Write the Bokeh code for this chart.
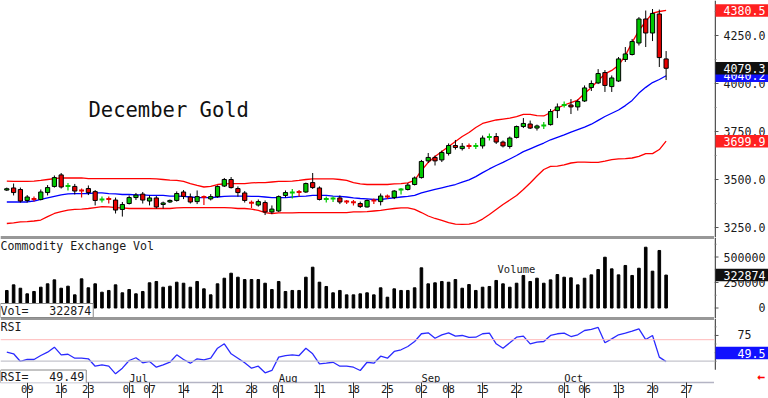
import pandas as pd
from bokeh.plotting import figure
from bokeh.layouts import column, row
from bokeh.models import (ColumnDataSource, FixedTicker, Label, Span, Range1d)
from bokeh.core.properties import value
from bokeh.embed import file_html
from bokeh.resources import INLINE

# ---------------- data ----------------
holidays = ["2025-06-19", "2025-07-04", "2025-09-01"]
session_days = [d for d in pd.bdate_range("2025-06-04", "2025-10-31")
                if d.strftime("%Y-%m-%d") not in holidays]

open_ = [3445, 3456, 3448, 3391, 3400, 3396, 3432, 3464, 3524, 3464,
         3464, 3445, 3453, 3437, 3393, 3401, 3393, 3344, 3375, 3406,
         3424, 3388, 3404, 3370, 3383, 3391, 3435, 3409, 3385, 3411,
         3399, 3411, 3466, 3500, 3453, 3430, 3380, 3367, 3380, 3331,
         3336, 3417, 3430, 3438, 3435, 3484, 3456, 3396, 3398, 3404,
         3388, 3383, 3375, 3357, 3393, 3385, 3414, 3406, 3445, 3448,
         3474, 3510, 3597, 3615, 3602, 3636, 3677, 3661, 3677, 3672,
         3675, 3719, 3724, 3695, 3672, 3719, 3776, 3789, 3768, 3779,
         3786, 3859, 3885, 3888, 3878, 3909, 3979, 4003, 4057, 3984,
         4013, 4125, 4151, 4211, 4336, 4263, 4362, 4128]
high_ = [3458, 3479, 3458, 3419, 3411, 3448, 3471, 3521, 3534, 3482,
         3477, 3453, 3469, 3445, 3411, 3411, 3406, 3383, 3417, 3430,
         3435, 3417, 3414, 3385, 3396, 3438, 3445, 3427, 3443, 3417,
         3424, 3469, 3508, 3513, 3464, 3440, 3391, 3396, 3391, 3365,
         3417, 3443, 3450, 3445, 3484, 3534, 3464, 3411, 3411, 3417,
         3393, 3393, 3385, 3396, 3401, 3427, 3422, 3445, 3456, 3482,
         3516, 3602, 3638, 3625, 3651, 3688, 3706, 3690, 3688, 3690,
         3729, 3740, 3742, 3703, 3724, 3781, 3820, 3807, 3786, 3799,
         3867, 3896, 3906, 3919, 3917, 3990, 4016, 4075, 4070, 4042,
         4138, 4190, 4232, 4346, 4380, 4388, 4385, 4169]
low_ = [3440, 3417, 3380, 3380, 3385, 3391, 3417, 3458, 3453, 3443,
        3422, 3406, 3419, 3365, 3380, 3375, 3323, 3307, 3370, 3393,
        3375, 3365, 3349, 3349, 3378, 3385, 3398, 3375, 3372, 3367,
        3391, 3406, 3461, 3453, 3411, 3380, 3352, 3359, 3315, 3320,
        3331, 3406, 3401, 3411, 3430, 3451, 3391, 3380, 3383, 3372,
        3372, 3365, 3352, 3354, 3372, 3365, 3398, 3398, 3422, 3443,
        3469, 3505, 3586, 3573, 3591, 3625, 3656, 3651, 3659, 3659,
        3661, 3703, 3685, 3667, 3661, 3714, 3768, 3763, 3755, 3763,
        3781, 3820, 3875, 3841, 3859, 3904, 3961, 3997, 3956, 3956,
        4008, 4112, 4146, 4198, 4190, 4221, 4086, 4018]
close_ = [3452, 3432, 3388, 3409, 3396, 3435, 3458, 3510, 3461, 3469,
          3440, 3440, 3432, 3391, 3398, 3396, 3341, 3370, 3406, 3419,
          3393, 3404, 3357, 3378, 3391, 3427, 3412, 3383, 3411, 3406,
          3411, 3464, 3500, 3458, 3432, 3391, 3378, 3385, 3331, 3346,
          3411, 3432, 3435, 3432, 3479, 3458, 3396, 3401, 3404, 3383,
          3383, 3380, 3359, 3391, 3388, 3414, 3409, 3440, 3451, 3471,
          3508, 3594, 3615, 3597, 3641, 3677, 3667, 3673, 3672, 3677,
          3716, 3724, 3695, 3675, 3716, 3776, 3792, 3768, 3779, 3784,
          3854, 3878, 3891, 3878, 3906, 3977, 4000, 4052, 3990, 4029,
          4128, 4154, 4219, 4336, 4263, 4365, 4135, 4079.3]
volume = [171600, 227000, 194000, 139000, 162000, 204000, 237000, 276000, 194000, 214000,
          129000, 286000, 198000, 237000, 155000, 172000, 227000, 149000, 181000, 139000,
          162000, 247000, 260000, 204000, 214000, 253000, 243000, 204000, 260000, 188000,
          129000, 237000, 292000, 341000, 302000, 279000, 279000, 279000, 243000, 181000,
          260000, 162000, 172000, 172000, 302000, 400000, 253000, 211000, 149000, 172000,
          129000, 129000, 139000, 149000, 129000, 198000, 106000, 188000, 172000, 172000,
          198000, 394000, 237000, 247000, 260000, 253000, 279000, 194000, 230000, 172000,
          204000, 211000, 270000, 237000, 204000, 243000, 319000, 260000, 292000, 243000,
          276000, 328000, 302000, 296000, 227000, 292000, 325000, 377000, 498000, 384000,
          325000, 417000, 319000, 390000, 596000, 361000, 564000, 322874]
bb_upper = [3492, 3490, 3490, 3490, 3492, 3495, 3500, 3505, 3508, 3508,
            3508, 3508, 3505, 3505, 3505, 3505, 3505, 3505, 3505, 3505,
            3505, 3505, 3503, 3500, 3497, 3495, 3490, 3479, 3469, 3461,
            3464, 3474, 3477, 3479, 3479, 3479, 3482, 3484, 3484, 3487,
            3490, 3490, 3492, 3495, 3500, 3503, 3503, 3503, 3503, 3500,
            3495, 3484, 3477, 3474, 3474, 3474, 3474, 3477, 3479, 3482,
            3495, 3547, 3589, 3620, 3646, 3672, 3698, 3724, 3745, 3771,
            3792, 3802, 3810, 3815, 3820, 3828, 3839, 3839, 3833, 3831,
            3849, 3872, 3888, 3901, 3914, 3948, 3979, 4016, 4050, 4068,
            4095, 4145, 4214, 4276, 4323, 4367, 4375, 4380.5]
bb_mid = [3383, 3383, 3383, 3383, 3388, 3396, 3404, 3412, 3420, 3425,
          3427, 3427, 3427, 3430, 3430, 3427, 3425, 3422, 3422, 3420,
          3420, 3417, 3417, 3417, 3414, 3414, 3412, 3409, 3406, 3406,
          3406, 3409, 3412, 3414, 3414, 3414, 3412, 3412, 3409, 3406,
          3406, 3406, 3409, 3412, 3414, 3417, 3417, 3417, 3414, 3412,
          3409, 3404, 3401, 3399, 3396, 3396, 3401, 3404, 3409, 3412,
          3417, 3430, 3440, 3449, 3457, 3465, 3474, 3486, 3498, 3515,
          3536, 3555, 3573, 3589, 3607, 3625, 3645, 3660, 3675, 3690,
          3707, 3720, 3733, 3747, 3760, 3773, 3788, 3808, 3828, 3845,
          3862, 3885, 3912, 3950, 3980, 4005, 4021, 4040.2]
bb_lower = [3271, 3274, 3279, 3281, 3284, 3289, 3307, 3323, 3333, 3341,
            3344, 3346, 3349, 3354, 3359, 3357, 3354, 3352, 3349, 3349,
            3349, 3349, 3349, 3349, 3349, 3352, 3354, 3354, 3354, 3354,
            3354, 3354, 3354, 3352, 3349, 3349, 3346, 3339, 3328, 3323,
            3326, 3326, 3326, 3328, 3328, 3328, 3328, 3328, 3328, 3328,
            3328, 3331, 3331, 3333, 3336, 3339, 3344, 3349, 3352, 3352,
            3344, 3328, 3310, 3297, 3287, 3276, 3268, 3266, 3268, 3276,
            3294, 3318, 3344, 3370, 3393, 3417, 3448, 3482, 3518, 3552,
            3568, 3570, 3576, 3586, 3591, 3591, 3589, 3589, 3596, 3604,
            3607, 3609, 3612, 3620, 3635, 3635, 3656, 3699.9]
rsi = [60.5, 58.6, 49.7, 52, 52, 56.6, 60.5, 66.3, 57.4, 58.1,
       53.5, 53.5, 52.8, 44.2, 45.8, 44.2, 35.3, 41.9, 50.8, 54,
       48.1, 49.7, 43, 45.8, 48.8, 57.4, 52, 47.7, 52.8, 51.6,
       53.5, 65.1, 70.2, 58.6, 53.5, 48.1, 41.9, 44.2, 36.5, 39.2,
       54.7, 56.6, 57.4, 56.6, 65.1, 58.6, 47, 47.7, 48.8, 44.2,
       44.2, 43, 39.2, 48.8, 47.7, 55.8, 53.5, 61.3, 63.3, 67.1,
       72.9, 81.9, 83, 76.7, 80.7, 83, 79.1, 79.9, 77.6, 77.9,
       81.9, 82.6, 70.2, 65.1, 71.4, 77.9, 79.1, 70.2, 72.1, 72.9,
       79.9, 81.9, 82.6, 78.7, 80.7, 85.7, 86.9, 89.2, 71.4, 76,
       80.7, 82.6, 84.9, 87.7, 75.2, 79.9, 54.7, 49.49]

tick_dates = ["2025-06-09", "2025-06-16", "2025-06-23", "2025-07-01", "2025-07-07",
              "2025-07-14", "2025-07-21", "2025-07-28", "2025-08-01", "2025-08-11",
              "2025-08-18", "2025-08-25", "2025-09-02", "2025-09-08", "2025-09-15",
              "2025-09-22", "2025-10-01", "2025-10-06", "2025-10-13", "2025-10-20",
              "2025-10-27"]
month_starts = ["2025-07-01", "2025-08-01", "2025-09-02", "2025-10-01"]
month_names = ["Jul", "Aug", "Sep", "Oct"]
price_ticks = [3250, 3500, 3750, 4000, 4250]
price_minor = [3375, 3625, 3875, 4125, 4375]
volume_ticks = [0, 250000, 500000]
volume_minor = [125000, 375000, 625000]
rsi_ticks = [50, 75]
rsi_minor = [37.5, 62.5, 87.5]
title_text = "December Gold"

# ---------------- layout helpers ----------------
pos = {d.strftime("%Y-%m-%d"): i for i, d in enumerate(session_days)}
n = len(close_)
xs = list(range(n))

PXD = 6.797                      # pixels per session
X0PX = 26.7                      # page x of 2025-06-09
REF_IDX = pos["2025-06-09"]
MAIN_W, SIDE_W = 714, 54


def idx_at(px):
    return REF_IDX + (px - X0PX) / PXD


X_START = idx_at(0)
X_END = idx_at(MAIN_W)


def price_at(py):
    return 4432.3 - 5.208 * py


def vol_at(py):
    return (307.5 - py) * 9804.0


def rsi_at(py):
    return 50 + (360.7 - py) / 0.86


FONT = "DejaVu Sans Mono"
GREEN = "#00c800"
RED = "#e80000"
BLUE = "#0000ff"
TXT = "#1a1a1a"
AX = "#555555"

xr = Range1d(X_START, X_END)


def base_fig(w, h, xrange, yr, bottom=0, xaxis=None):
    f = figure(width=w, height=h, x_range=xrange, y_range=yr,
               y_axis_location=None, x_axis_location=xaxis,
               toolbar_location=None, output_backend="svg",
               min_border_left=0, min_border_right=0, min_border_top=0,
               min_border_bottom=bottom)
    f.xgrid.visible = False
    f.ygrid.visible = False
    f.outline_line_color = None
    f.background_fill_color = "white"
    f.border_fill_color = "white"
    return f


def txt(f, x, y, text, size="11.6px", color=TXT, **kw):
    f.add_layout(Label(x=x, y=y, text=text, text_font=FONT, text_font_size=size,
                       text_color=color, text_baseline="middle", text_align="left", **kw))


def side_axis(s, ticks, minor, labels, y_lo, y_hi):
    s.segment(x0=[0.75], y0=[y_lo], x1=[0.75], y1=[y_hi], line_color=AX, line_width=1.5)
    s.segment(x0=[0] * len(ticks), y0=ticks, x1=[4] * len(ticks), y1=ticks,
              line_color=AX, line_width=1)
    s.segment(x0=[0] * len(minor), y0=minor, x1=[2] * len(minor), y1=minor,
              line_color="#777777", line_width=1)
    s.text(x=[9] * len(ticks), y=ticks, text=labels, text_font=value(FONT),
           text_font_size=value("11.6px"), text_color=TXT,
           text_baseline="middle", text_align="left")


def side_box(s, yv, text, bg, chars=6):
    s.rect(x=[27.5], y=[yv], width=53, height=12.5, height_units="screen",
           fill_color=bg, line_color=None)
    s.text(x=[9 + 7 * (6 - chars)], y=[yv], text=[text], text_font=value(FONT),
           text_font_size=value("11.6px"), text_color="white",
           text_baseline="middle", text_align="left")


# ---------------- price panel ----------------
p1_yr = Range1d(price_at(237), price_at(0))
p1 = base_fig(MAIN_W, 237, xr, p1_yr)

p1.line(xs, bb_upper, line_color="#ff0000", line_width=1.3)
p1.line(xs, bb_lower, line_color="#ff0000", line_width=1.3)
p1.line(xs, bb_mid, line_color=BLUE, line_width=1.3)

body = dict(x=[], top=[], bottom=[], color=[], hi=[], lo=[])
doji = dict(x=[], x0=[], x1=[], y=[], hi=[], lo=[], color=[])
for i in range(n):
    o, h, l, c = open_[i], high_[i], low_[i], close_[i]
    col = GREEN if c >= o else RED
    if abs(c - o) <= 6:
        doji["x"].append(i); doji["x0"].append(i - 0.36); doji["x1"].append(i + 0.36)
        doji["y"].append((o + c) / 2); doji["hi"].append(h); doji["lo"].append(l)
        doji["color"].append(col)
    else:
        body["x"].append(i); body["top"].append(max(o, c)); body["bottom"].append(min(o, c))
        body["color"].append(col); body["hi"].append(h); body["lo"].append(l)
bsrc = ColumnDataSource(body)
dsrc = ColumnDataSource(doji)
p1.segment(x0="x", y0="lo", x1="x", y1="hi", source=bsrc, line_color="black", line_width=1)
p1.vbar(x="x", width=0.62, top="top", bottom="bottom", source=bsrc,
        fill_color="color", line_color="black", line_width=1)
p1.segment(x0="x", y0="lo", x1="x", y1="hi", source=dsrc, line_color="color", line_width=1.2)
p1.segment(x0="x0", y0="y", x1="x1", y1="y", source=dsrc, line_color="color", line_width=2)

p1.add_layout(Span(location=p1_yr.start, dimension="width", line_color="#333333", line_width=2))
txt(p1, idx_at(88), price_at(109.5), title_text, size="20.5px", color="#111111")

s1 = base_fig(SIDE_W, 237, Range1d(0, SIDE_W), Range1d(p1_yr.start, p1_yr.end))
side_axis(s1, price_ticks, price_minor, [f"{t:.1f}" for t in price_ticks],
          p1_yr.start, p1_yr.end)
side_box(s1, bb_upper[-1], f"{bb_upper[-1]:.1f}", "#ff2020")
side_box(s1, bb_lower[-1], f"{bb_lower[-1]:.1f}", "#ff2020")
side_box(s1, bb_mid[-1], f"{bb_mid[-1]:.1f}", "#1010ff")
side_box(s1, close_[-1], f"{close_[-1]:.1f}", "#101010")

# ---------------- volume panel ----------------
p2_yr = Range1d(vol_at(318), vol_at(237))
p2 = base_fig(MAIN_W, 81, xr, p2_yr)
p2.vbar(x=xs, top=volume, bottom=0, width=0.38, color="black")
p2.add_layout(Span(location=p2_yr.end, dimension="width", line_color="#333333", line_width=2))
p2.add_layout(Span(location=p2_yr.start, dimension="width", line_color="#333333", line_width=2))
txt(p2, X_START, vol_at(245), "Commodity Exchange Vol")
txt(p2, idx_at(497), vol_at(268.5), "Volume", size="10.5px")
txt(p2, X_START, vol_at(310), "Vol=\u00a0\u00a0\u00a0" + str(volume[-1]),
    background_fill_color="white", border_line_color="#888888",
    padding=dict(left=0, right=2, top=0, bottom=0))

s2 = base_fig(SIDE_W, 81, Range1d(0, SIDE_W), Range1d(p2_yr.start, p2_yr.end))
side_axis(s2, volume_ticks, volume_minor,
          [str(t).rjust(6, "\u00a0") for t in volume_ticks], p2_yr.start, p2_yr.end)
side_box(s2, volume[-1], str(volume[-1]), "#101010")

# ---------------- RSI panel ----------------
p3_yr = Range1d(rsi_at(382), rsi_at(318))
p3 = base_fig(MAIN_W, 80, xr, p3_yr, bottom=16, xaxis="below")
xa = p3.xaxis[0]
xa.ticker = FixedTicker(ticks=[pos[d] for d in tick_dates])
xa.major_label_overrides = {pos[d]: d[-2:] for d in tick_dates}
xa.major_tick_out = 16
xa.major_tick_in = 0
xa.minor_tick_out = 0
xa.minor_tick_line_color = None
xa.major_tick_line_color = "#333333"
xa.axis_line_color = "#b4b4c4"
xa.axis_line_width = 1.5
xa.major_label_standoff = -14
xa.major_label_text_align = "left"
xa.major_label_text_font = FONT
xa.major_label_text_font_size = "10.5px"
xa.major_label_text_color = TXT

p3.add_layout(Span(location=75, dimension="width", line_color="#ffb8b8", line_width=1))
p3.add_layout(Span(location=50, dimension="width", line_color="#c4c4cc", line_width=1.2))
p3.add_layout(Span(location=p3_yr.end, dimension="width", line_color="#333333", line_width=2))
p3.line(xs, rsi, line_color="#2a2aff", line_width=1.3)
txt(p3, X_START, rsi_at(326.5), "RSI")
for d, name in zip(month_starts, month_names):
    txt(p3, pos[d], rsi_at(377), name, size="10.5px")
txt(p3, X_START, rsi_at(376.5), "RSI=\u00a0\u00a0\u00a0" + f"{rsi[-1]:.2f}",
    background_fill_color="white", border_line_color="#888888",
    padding=dict(left=0, right=2, top=0, bottom=0))

s3_yr = Range1d(rsi_at(398), rsi_at(318))
s3 = base_fig(SIDE_W, 80, Range1d(0, SIDE_W), s3_yr)
side_axis(s3, rsi_ticks, rsi_minor,
          [str(t).rjust(4, "\u00a0") for t in rsi_ticks], rsi_at(382), s3_yr.end)
side_box(s3, rsi[-1], f"{rsi[-1]:.1f}", "#1010ff", chars=4)
s3.text(x=[43], y=[rsi_at(390.5)], text=["\u2190"], text_font=value(FONT),
        text_font_size=value("13px"), text_font_style="bold", text_color="#ff0000",
        text_baseline="middle", text_align="left")

layout = column(row(p1, s1, spacing=0), row(p2, s2, spacing=0), row(p3, s3, spacing=0),
                spacing=0)
open("out.html", "w").write(file_html(layout, INLINE))
